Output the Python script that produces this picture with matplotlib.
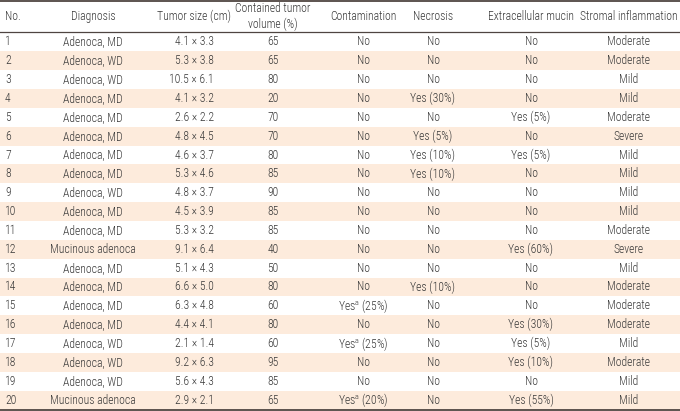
import matplotlib
matplotlib.use('Agg')
import matplotlib.pyplot as plt
from matplotlib.patches import Rectangle

plt.rcParams['font.family'] = ['Roboto Condensed', 'DejaVu Sans']
plt.rcParams['font.weight'] = 'light'
plt.rcParams['mathtext.fontset'] = 'custom'
plt.rcParams['mathtext.rm'] = 'Roboto Condensed:light'

# table data
headers = ['No.', 'Diagnosis', 'Tumor size (cm)', 'Contained tumor\nvolume (%)',
           'Contamination', 'Necrosis', 'Extracellular mucin', 'Stromal inflammation']
case_no = [str(i) for i in range(1, 21)]
diagnosis = ['Adenoca, MD', 'Adenoca, WD', 'Adenoca, WD', 'Adenoca, MD', 'Adenoca, MD',
             'Adenoca, MD', 'Adenoca, MD', 'Adenoca, MD', 'Adenoca, WD', 'Adenoca, MD',
             'Adenoca, MD', 'Mucinous adenoca', 'Adenoca, MD', 'Adenoca, MD', 'Adenoca, MD',
             'Adenoca, MD', 'Adenoca, WD', 'Adenoca, WD', 'Adenoca, WD', 'Mucinous adenoca']
tumor_size = ['4.1 × 3.3', '5.3 × 3.8', '10.5 × 6.1', '4.1 × 3.2', '2.6 × 2.2',
              '4.8 × 4.5', '4.6 × 3.7', '5.3 × 4.6', '4.8 × 3.7', '4.5 × 3.9',
              '5.3 × 3.2', '9.1 × 6.4', '5.1 × 4.3', '6.6 × 5.0', '6.3 × 4.8',
              '4.4 × 4.1', '2.1 × 1.4', '9.2 × 6.3', '5.6 × 4.3', '2.9 × 2.1']
volume = ['65', '65', '80', '20', '70', '70', '80', '85', '90', '85',
          '85', '40', '50', '80', '60', '80', '60', '95', '85', '65']
sup = r'$^{\mathrm{a}}$'
contamination = ['No'] * 14 + ['Yes' + sup + ' (25%)', 'No', 'Yes' + sup + ' (25%)',
                                'No', 'No', 'Yes' + sup + ' (20%)']
necrosis = ['No', 'No', 'No', 'Yes (30%)', 'No', 'Yes (5%)', 'Yes (10%)', 'Yes (10%)',
            'No', 'No', 'No', 'No', 'No', 'Yes (10%)', 'No', 'No', 'No', 'No', 'No', 'No']
mucin = ['No', 'No', 'No', 'No', 'Yes (5%)', 'No', 'Yes (5%)', 'No', 'No', 'No',
         'No', 'Yes (60%)', 'No', 'No', 'No', 'Yes (30%)', 'Yes (5%)', 'Yes (10%)',
         'No', 'Yes (55%)']
inflammation = ['Moderate', 'Moderate', 'Mild', 'Mild', 'Moderate', 'Severe', 'Mild',
                'Mild', 'Mild', 'Mild', 'Moderate', 'Severe', 'Mild', 'Moderate',
                'Moderate', 'Moderate', 'Mild', 'Moderate', 'Mild', 'Mild']

columns = [case_no, diagnosis, tumor_size, volume, contamination, necrosis, mucin, inflammation]
col_x = [5, 93, 214, 273, 363, 433, 531, 629]
col_ha = ['left', 'center', 'right', 'center', 'center', 'center', 'center', 'center']
head_x = [5, 93, 194, 273, 363, 433, 531, 629]
head_ha = ['left', 'center', 'center', 'center', 'center', 'center', 'center', 'center']

W, H = 680, 411
top, head_bottom, bottom = 1, 32.5, 409.5
row_h = (bottom - head_bottom) / len(case_no)
txt = '#383838'
line_c = '#4f4541'
peach = '#fdebdc'
fs = 8.4

fig = plt.figure(figsize=(6.8, 4.11), dpi=100)
ax = fig.add_axes([0, 0, 1, 1])
ax.set_xlim(0, W)
ax.set_ylim(H, 0)
ax.axis('off')

for i in range(len(case_no)):
    y0 = head_bottom + i * row_h
    if i % 2 == 1:
        ax.add_patch(Rectangle((0, y0), W, row_h, facecolor=peach, edgecolor='none'))
    yc = y0 + row_h / 2
    for col, x, ha in zip(columns, col_x, col_ha):
        ax.text(x, yc, col[i], ha=ha, va='center', fontsize=fs, color=txt)

hy = (top + head_bottom) / 2
for h, x, ha in zip(headers, head_x, head_ha):
    ax.text(x, hy, h, ha=ha, va='center', fontsize=fs, color=txt,
            multialignment='center', linespacing=1.3)

ax.plot([0, W], [top, top], color=line_c, lw=1.3)
ax.plot([0, W], [head_bottom, head_bottom], color=line_c, lw=0.9)
ax.plot([0, W], [bottom, bottom], color=line_c, lw=1.3)

fig.savefig('out.png', dpi=100)
